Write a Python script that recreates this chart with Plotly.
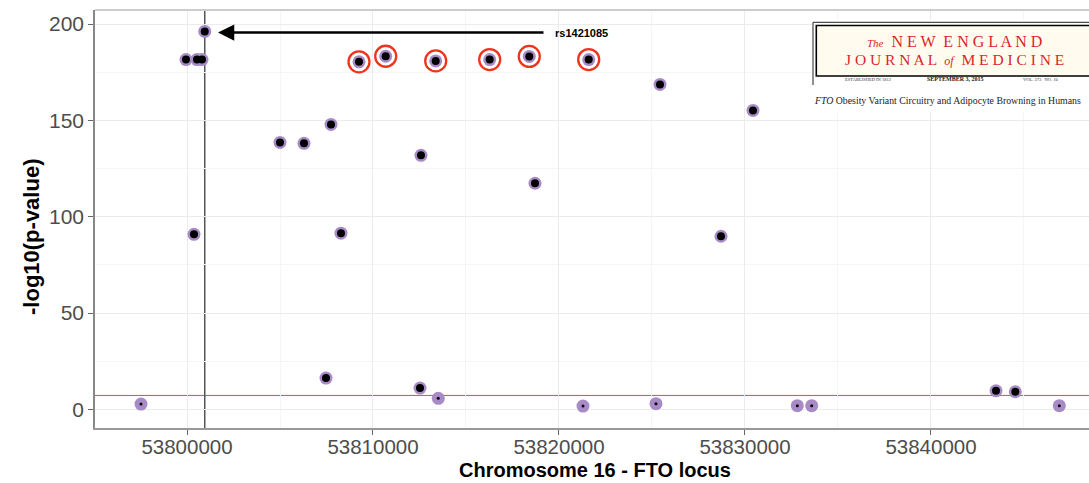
import plotly.graph_objects as go

# ---- data ----
positions = [53797527, 53799946, 53800538, 53800806, 53800954, 53800376,
             53805000, 53806290, 53807742, 53807473, 53808280, 53809247,
             53810683, 53812580, 53812527, 53813510, 53813371, 53816274,
             53818403, 53818710, 53821597, 53821290, 53825215, 53825430,
             53828710, 53830430, 53832812, 53833586, 53843495, 53844532,
             53846899]
neglog10_p = [2.8, 181.6, 181.6, 181.6, 196.2, 90.9,
              138.6, 138.1, 147.9, 16.3, 91.5, 180.4,
              183.3, 131.9, 11.1, 5.8, 180.9, 181.6,
              183.2, 117.4, 181.6, 1.8, 3.0, 168.7,
              89.9, 155.2, 2.0, 2.0, 9.7, 9.2,
              2.0]
circled = [False, False, False, False, False, False,
           False, False, False, False, False, True,
           True, False, False, False, True, True,
           True, False, True, False, False, False,
           False, False, False, False, False, False,
           False]
threshold = 7.3
lead_snp_pos = 53800954
lead_snp_name = "rs1421085"
x_ticks = [53800000, 53810000, 53820000, 53830000, 53840000]
y_ticks = [0, 50, 100, 150, 200]

# ---- layout geometry ----
W, H = 1089, 483
ML, MR, MT, MB = 95, 0, 10, 55
PW, PH = W - ML - MR, H - MT - MB


def pxx(p):
    return (p - ML) / PW


def pxy(p):
    return (H - MB - p) / PH


fig = go.Figure()

# purple halo
fig.add_trace(go.Scatter(
    x=positions, y=neglog10_p, mode="markers",
    marker=dict(size=13, color="#a88bc6", line=dict(width=0)),
    hoverinfo="skip", showlegend=False))
# black inner dot, larger when significant
fig.add_trace(go.Scatter(
    x=positions, y=neglog10_p, mode="markers",
    marker=dict(size=[8 if v > threshold else 3 for v in neglog10_p],
                color="#000000", opacity=1, line=dict(width=0)),
    showlegend=False))
# red circles
fig.add_trace(go.Scatter(
    x=[p for p, c in zip(positions, circled) if c],
    y=[v for v, c in zip(neglog10_p, circled) if c],
    mode="markers",
    marker=dict(symbol="circle-open", size=21, color="#f2331c",
                line=dict(width=2.3, color="#f2331c")),
    showlegend=False))

shapes = []
# significance line
shapes.append(dict(type="line", xref="paper", yref="y", x0=0, x1=1,
                   y0=threshold, y1=threshold,
                   line=dict(color="#e8483a", width=1), layer="below"))
# lead SNP vertical line
shapes.append(dict(type="line", xref="x", yref="paper", x0=lead_snp_pos,
                   x1=lead_snp_pos, y0=0, y1=1,
                   line=dict(color="#555555", width=1.5), layer="below"))
# top panel border
shapes.append(dict(type="line", xref="paper", yref="paper", x0=0, x1=1.02,
                   y0=1, y1=1, line=dict(color="#cccccc", width=2)))

# ---- NEJM inset ----
shapes.append(dict(type="rect", xref="paper", yref="paper",
                   x0=pxx(812), x1=pxx(1100), y0=pxy(112), y1=pxy(20),
                   fillcolor="white", line=dict(width=0), layer="above"))
shapes.append(dict(type="line", xref="paper", yref="paper",
                   x0=pxx(813), x1=pxx(1100), y0=pxy(22.3), y1=pxy(22.3),
                   line=dict(color="#222222", width=1), layer="above"))
shapes.append(dict(type="line", xref="paper", yref="paper",
                   x0=pxx(813), x1=pxx(813), y0=pxy(22.3), y1=pxy(85),
                   line=dict(color="#222222", width=1), layer="above"))
shapes.append(dict(type="rect", xref="paper", yref="paper",
                   x0=pxx(816.3), x1=pxx(1100), y0=pxy(76), y1=pxy(25.5),
                   fillcolor="#fffcef", line=dict(color="black", width=1.6),
                   layer="above"))

annotations = []
# arrow to lead SNP
annotations.append(dict(
    x=53801667, y=195.6, ax=53819247, ay=195.6, xref="x", yref="y",
    axref="x", ayref="y", text="", showarrow=True, arrowhead=2,
    arrowsize=1.3, arrowwidth=2.5, arrowcolor="black"))
annotations.append(dict(
    x=53819677, y=195.6, xref="x", yref="y", xanchor="left", yanchor="middle",
    text="<b>" + lead_snp_name + "</b>", showarrow=False,
    font=dict(family="Liberation Sans, Arial", size=11, color="black")))

red = "#dc1f2b"
serif = "Liberation Serif, Times New Roman, serif"
annotations.append(dict(
    x=pxx(954), y=pxy(42), xref="paper", yref="paper", showarrow=False,
    xanchor="center", yanchor="middle",
    text='<i><span style="font-size:11px">The</span></i>  N E W  E N G L A N D',
    font=dict(family=serif, size=16, color=red)))
annotations.append(dict(
    x=pxx(954), y=pxy(59), xref="paper", yref="paper", showarrow=False,
    xanchor="center", yanchor="middle",
    text='J O U R N A L  <i><span style="font-size:12px">of</span></i>  M E D I C I N E',
    font=dict(family=serif, size=15.5, color=red)))
annotations.append(dict(
    x=pxx(868), y=pxy(79.5), xref="paper", yref="paper", showarrow=False,
    xanchor="center", yanchor="middle", text="ESTABLISHED IN 1812",
    font=dict(family=serif, size=4.5, color="#333333")))
annotations.append(dict(
    x=pxx(955), y=pxy(79.5), xref="paper", yref="paper", showarrow=False,
    xanchor="center", yanchor="middle", text="<b>SEPTEMBER 3, 2015</b>",
    font=dict(family=serif, size=6, color="#222222")))
annotations.append(dict(
    x=pxx(1041), y=pxy(79.5), xref="paper", yref="paper", showarrow=False,
    xanchor="center", yanchor="middle", text="VOL. 373   NO. 10",
    font=dict(family=serif, size=4.5, color="#333333")))
annotations.append(dict(
    x=pxx(812), y=pxy(101), xref="paper", yref="paper", showarrow=False,
    xanchor="left", yanchor="middle",
    text="<i>FTO</i> Obesity Variant Circuitry and Adipocyte Browning in Humans",
    font=dict(family=serif, size=9.8, color="#222222")))

# axis titles
annotations.append(dict(
    x=pxx(31), y=pxy(237), xref="paper", yref="paper", showarrow=False,
    textangle=-90, xanchor="center", yanchor="middle",
    text="<b>-log10(p-value)</b>",
    font=dict(family="Liberation Sans, Arial", size=22, color="black")))
annotations.append(dict(
    x=pxx(595), y=pxy(470), xref="paper", yref="paper", showarrow=False,
    xanchor="center", yanchor="middle",
    text="<b>Chromosome 16 - FTO locus</b>",
    font=dict(family="Liberation Sans, Arial", size=20, color="black")))

tickfont = dict(family="Liberation Sans, Arial", size=20.5, color="#4d4d4d")

fig.update_layout(
    width=W, height=H, margin=dict(l=ML, r=MR, t=MT, b=MB, autoexpand=False),
    paper_bgcolor="white", plot_bgcolor="white",
    shapes=shapes, annotations=annotations,
    xaxis=dict(range=[53795054, 53848495], tickmode="array",
               tickvals=x_ticks, ticktext=[str(v) for v in x_ticks],
               showgrid=True, gridcolor="#ebebeb", gridwidth=1,
               minor=dict(tick0=53795000, dtick=5000, showgrid=True,
                          gridcolor="#f5f5f5", gridwidth=1, ticklen=0),
               showline=True, linecolor="#999999", linewidth=1.5,
               ticks="outside", ticklen=5, tickcolor="#666666", tickwidth=1.2,
               ticklabelstandoff=-5,
               tickfont=tickfont, zeroline=False),
    yaxis=dict(range=[-9.6, 207.3], tickmode="array", tickvals=y_ticks,
               ticktext=[str(v) for v in y_ticks],
               showgrid=True, gridcolor="#ebebeb", gridwidth=1,
               minor=dict(tick0=-25, dtick=25, showgrid=True,
                          gridcolor="#f5f5f5", gridwidth=1, ticklen=0),
               showline=True, linecolor="#888888", linewidth=1.5,
               ticks="outside", ticklen=5, tickcolor="#666666", tickwidth=1.2,
               tickfont=dict(family="Liberation Sans, Arial", size=21,
                             color="#4d4d4d"),
               zeroline=False),
)

fig.write_html("out.html")
